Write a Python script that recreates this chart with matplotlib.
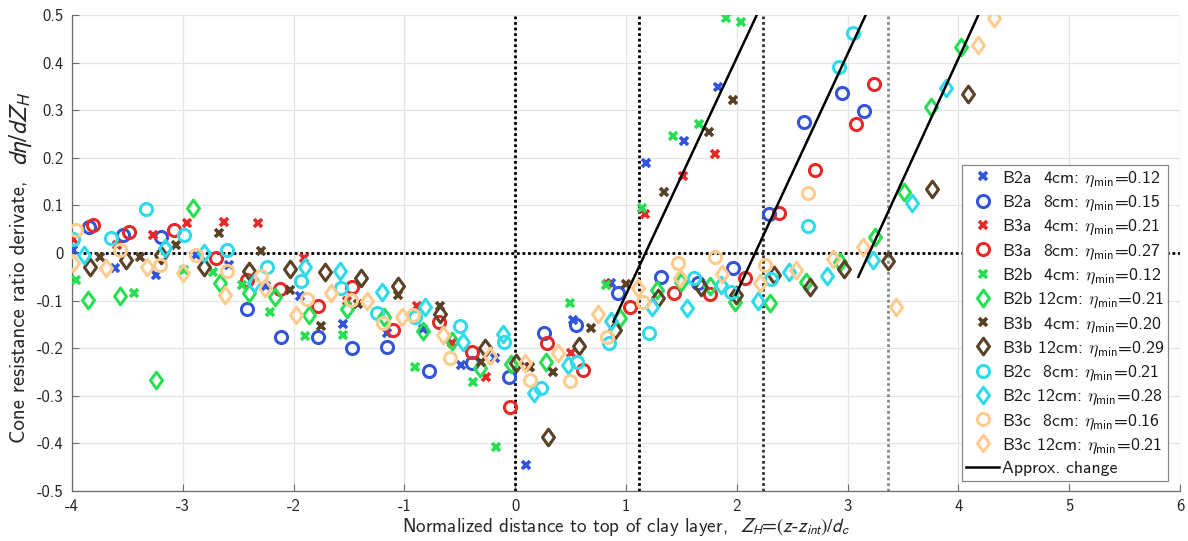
import matplotlib
matplotlib.use('Agg')
import matplotlib.pyplot as plt
from matplotlib.path import Path

plt.rcParams['font.family'] = ['cmss10', 'DejaVu Sans']
plt.rcParams['axes.unicode_minus'] = False
plt.rcParams['mathtext.fontset'] = 'cm'

# ---------------- data ----------------
b2a4_x = [-3.99, -3.61, -3.24, -2.88, -2.58, -2.25, -1.94, -1.55, -1.16, -0.83, -0.49, -0.18, 0.10, 0.52, 0.86, 1.18, 1.52, 1.83]
b2a4_y = [0.006, -0.032, -0.046, -0.005, -0.025, -0.07, -0.09, -0.149, -0.169, -0.16, -0.235, -0.221, -0.445, -0.141, -0.063, 0.190, 0.235, 0.348]

b2a8_x = [-3.85, -3.54, -3.20, -2.42, -2.11, -1.78, -1.47, -1.16, -0.78, -0.39, -0.06, 0.26, 0.55, 0.93, 1.32, 1.65, 1.97, 2.29, 2.61, 2.95, 3.15]
b2a8_y = [0.055, 0.038, 0.034, -0.118, -0.176, -0.177, -0.200, -0.198, -0.247, -0.232, -0.260, -0.169, -0.151, -0.083, -0.050, -0.064, -0.031, 0.081, 0.276, 0.337, 0.299]

b3a4_x = [-3.99, -3.59, -3.27, -2.96, -2.63, -2.32, -1.91, -1.52, -0.89, -0.57, -0.26, 0.12, 0.50, 0.83, 1.17, 1.51, 1.80]
b3a4_y = [0.030, 0.017, 0.038, 0.063, 0.065, 0.062, -0.011, -0.100, -0.111, -0.190, -0.261, -0.240, -0.210, -0.065, 0.082, 0.162, 0.209]

b3a8_x = [-3.81, -3.49, -3.08, -2.70, -2.42, -2.12, -1.78, -1.47, -1.10, -0.69, -0.39, -0.05, 0.29, 0.61, 1.04, 1.43, 1.76, 2.07, 2.38, 2.71, 3.08, 3.24]
b3a8_y = [0.059, 0.044, 0.048, -0.010, -0.057, -0.076, -0.111, -0.072, -0.161, -0.144, -0.209, -0.323, -0.190, -0.246, -0.114, -0.084, -0.086, -0.053, 0.083, 0.174, 0.272, 0.355]

b2b4_x = [-3.96, -3.44, -2.99, -2.73, -2.47, -2.21, -1.90, -1.55, -0.90, -0.38, -0.17, 0.49, 0.82, 1.14, 1.42, 1.66, 1.90, 2.04]
b2b4_y = [-0.057, -0.083, -0.035, -0.040, -0.067, -0.123, -0.174, -0.172, -0.240, -0.270, -0.407, -0.104, -0.067, 0.094, 0.246, 0.272, 0.493, 0.486]

b2b12_x = [-3.86, -3.57, -3.24, -2.91, -2.66, -2.40, -2.17, -1.86, -1.52, -1.18, -0.83, -0.57, -0.32, -0.04, 0.28, 0.95, 1.28, 1.50, 1.76, 1.98, 2.30, 2.62, 2.93, 3.25, 3.51, 3.75, 4.02]
b2b12_y = [-0.099, -0.090, -0.267, 0.094, -0.064, -0.084, -0.092, -0.130, -0.118, -0.135, -0.163, -0.184, -0.242, -0.233, -0.228, -0.137, -0.077, -0.060, -0.069, -0.102, -0.106, -0.060, -0.018, 0.034, 0.129, 0.306, 0.433]

b3b4_x = [-3.75, -3.39, -3.06, -2.67, -2.29, -2.03, -1.75, -1.42, -1.06, -0.68, -0.31, 0.13, 0.34, 0.68, 1.00, 1.34, 1.75, 1.97]
b3b4_y = [-0.008, -0.008, 0.017, 0.041, 0.005, -0.078, -0.153, -0.107, -0.088, -0.111, -0.230, -0.240, -0.251, -0.158, -0.065, 0.129, 0.255, 0.321]

b3b12_x = [-3.84, -3.51, -3.20, -2.81, -2.40, -2.03, -1.72, -1.39, -1.06, -0.68, -0.27, 0.01, 0.30, 0.58, 0.90, 1.29, 1.68, 1.99, 2.34, 2.66, 2.97, 3.36, 3.76, 4.09]
b3b12_y = [-0.030, -0.015, -0.005, -0.030, -0.037, -0.034, -0.039, -0.053, -0.069, -0.128, -0.200, -0.232, -0.386, -0.195, -0.162, -0.095, -0.071, -0.088, -0.046, -0.072, -0.034, -0.017, 0.134, 0.334]

b2c8_x = [-3.99, -3.65, -3.33, -2.99, -2.60, -2.24, -1.93, -1.57, -1.25, -0.90, -0.50, -0.10, 0.23, 0.56, 0.85, 1.21, 1.61, 1.95, 2.31, 2.64, 2.92, 3.05]
b2c8_y = [0.030, 0.031, 0.092, 0.038, 0.006, -0.030, -0.058, -0.074, -0.127, -0.135, -0.153, -0.188, -0.283, -0.228, -0.190, -0.168, -0.053, -0.081, -0.055, 0.057, 0.391, 0.462]

b2c12_x = [-3.89, -3.16, -2.81, -2.36, -1.90, -1.58, -1.20, -0.81, -0.47, -0.11, 0.17, 0.48, 0.86, 1.23, 1.55, 1.86, 2.19, 2.47, 2.81, 3.23, 3.58, 3.89]
b2c12_y = [-0.004, 0.010, 0.000, -0.062, -0.030, -0.037, -0.081, -0.114, -0.188, -0.170, -0.295, -0.235, -0.142, -0.114, -0.116, -0.067, -0.100, -0.039, -0.048, -0.015, 0.106, 0.346]

b3c8_x = [-3.96, -3.57, -3.21, -2.88, -2.60, -2.29, -1.88, -1.48, -1.19, -0.92, -0.59, 0.13, 0.49, 0.83, 1.15, 1.47, 1.80, 2.25, 2.64]
b3c8_y = [0.048, 0.006, -0.025, -0.004, -0.038, -0.048, -0.097, -0.099, -0.148, -0.130, -0.221, -0.267, -0.268, -0.176, -0.102, -0.020, -0.008, -0.025, 0.125]

b3c12_x = [-3.99, -3.69, -3.32, -3.00, -2.62, -2.26, -1.98, -1.66, -1.34, -1.02, -0.65, -0.23, 0.09, 0.39, 0.75, 1.11, 1.49, 1.87, 2.21, 2.53, 2.87, 3.14, 3.44, 4.18, 4.32]
b3c12_y = [-0.020, -0.032, -0.030, -0.042, -0.088, -0.074, -0.130, -0.085, -0.100, -0.135, -0.172, -0.216, -0.232, -0.210, -0.129, -0.074, -0.053, -0.044, -0.062, -0.036, -0.013, 0.013, -0.114, 0.437, 0.493]

series_labels = [
    r'B2a  4cm: $\eta_{\mathsf{min}}$=0.12',
    r'B2a  8cm: $\eta_{\mathsf{min}}$=0.15',
    r'B3a  4cm: $\eta_{\mathsf{min}}$=0.21',
    r'B3a  8cm: $\eta_{\mathsf{min}}$=0.27',
    r'B2b  4cm: $\eta_{\mathsf{min}}$=0.12',
    r'B2b 12cm: $\eta_{\mathsf{min}}$=0.21',
    r'B3b  4cm: $\eta_{\mathsf{min}}$=0.20',
    r'B3b 12cm: $\eta_{\mathsf{min}}$=0.29',
    r'B2c  8cm: $\eta_{\mathsf{min}}$=0.21',
    r'B2c 12cm: $\eta_{\mathsf{min}}$=0.28',
    r'B3c  8cm: $\eta_{\mathsf{min}}$=0.16',
    r'B3c 12cm: $\eta_{\mathsf{min}}$=0.21',
]
line_label = 'Approx. change'

# approximate change lines (start/end points)
change_x0 = [0.886, 1.99, 3.097]
change_y0 = [-0.144, -0.088, -0.050]
change_x1 = [2.18, 3.163, 4.18]
change_y1 = [0.5, 0.5, 0.5]

# vertical reference lines
vline_x = [0.0, 1.12, 2.24, 3.36]
vline_colors = ['black', 'black', '#333333', '#888888']

xticks = [-4, -3, -2, -1, 0, 1, 2, 3, 4, 5, 6]
xticklabels = ['-4', '-3', '-2', '-1', '0', '1', '2', '3', '4', '5', '6']
yticks = [-0.5, -0.4, -0.3, -0.2, -0.1, 0.0, 0.1, 0.2, 0.3, 0.4, 0.5]
yticklabels = ['-0.5', '-0.4', '-0.3', '-0.2', '-0.1', '0', '0.1', '0.2', '0.3', '0.4', '0.5']

# ---------------- styling ----------------
blue = '#3355dd'
red = '#e62a2a'
green = '#27e052'
brown = '#5b4226'
cyan = '#2fdbea'
orange = '#ffcb8e'

# MATLAB-like diamond (a bit wider than matplotlib's thin diamond)
diamond = Path([(0, 1), (0.72, 0), (0, -1), (-0.72, 0), (0, 1)],
               [Path.MOVETO, Path.LINETO, Path.LINETO, Path.LINETO, Path.CLOSEPOLY])

series = [
    (b2a4_x, b2a4_y, blue, 'x'),
    (b2a8_x, b2a8_y, blue, 'o'),
    (b3a4_x, b3a4_y, red, 'x'),
    (b3a8_x, b3a8_y, red, 'o'),
    (b2b4_x, b2b4_y, green, 'x'),
    (b2b12_x, b2b12_y, green, 'd'),
    (b3b4_x, b3b4_y, brown, 'x'),
    (b3b12_x, b3b12_y, brown, 'd'),
    (b2c8_x, b2c8_y, cyan, 'o'),
    (b2c12_x, b2c12_y, cyan, 'd'),
    (b3c8_x, b3c8_y, orange, 'o'),
    (b3c12_x, b3c12_y, orange, 'd'),
]

W, H = 1188, 541
fig = plt.figure(figsize=(W / 100, H / 100), dpi=100)
ax = fig.add_axes([0.0606, 0.0924, 0.9327, 0.8799])

ax.set_xlim(-4, 6)
ax.set_ylim(-0.5, 0.5)
ax.set_xticks(xticks)
ax.set_xticklabels(xticklabels)
ax.set_yticks(yticks)
ax.set_yticklabels(yticklabels)
ax.grid(True, color='#e4e4e4', linewidth=0.9)
ax.set_axisbelow(True)
for s in ['top', 'right']:
    ax.spines[s].set_visible(False)
for s in ['left', 'bottom']:
    ax.spines[s].set_color('#6a6a6a')
    ax.spines[s].set_linewidth(0.9)
ax.tick_params(direction='in', length=5, width=0.8, color='#6a6a6a',
               labelsize=12, labelcolor='#262626', pad=6)

# reference lines
ax.axhline(0, color='black', linestyle=(0, (1, 1)), linewidth=2.0, zorder=1)
for vx, vc in zip(vline_x, vline_colors):
    ax.axvline(vx, color=vc, linestyle=(0, (1, 1)), linewidth=2.0, zorder=1)

handles = []
for (xs, ys, col, mk), lab in zip(series, series_labels):
    if mk == 'x':
        h, = ax.plot(xs, ys, linestyle='none', marker='x', color=col,
                     markersize=6.0, markeredgewidth=2.6, label=lab, zorder=3)
    elif mk == 'o':
        h, = ax.plot(xs, ys, linestyle='none', marker='o', markerfacecolor='none',
                     markeredgecolor=col, markersize=8.7, markeredgewidth=2.2,
                     label=lab, zorder=3)
    else:
        h, = ax.plot(xs, ys, linestyle='none', marker=diamond, markerfacecolor='none',
                     markeredgecolor=col, markersize=12.0, markeredgewidth=2.2,
                     label=lab, zorder=3)
    handles.append(h)

line_h = None
for x0, y0, x1, y1 in zip(change_x0, change_y0, change_x1, change_y1):
    lh, = ax.plot([x0, x1], [y0, y1], color='black', linewidth=1.8, zorder=4)
    if line_h is None:
        line_h = lh
handles.append(line_h)
labels = series_labels + [line_label]

leg = ax.legend(handles, labels, loc='lower right', bbox_to_anchor=(0.9895, 0.022),
                fontsize=12.8, frameon=True, fancybox=False, framealpha=1,
                edgecolor='#888888', labelspacing=0.27, handlelength=1.85,
                handletextpad=0.15, borderpad=0.25, borderaxespad=0)
leg.get_frame().set_linewidth(0.9)
for t in leg.get_texts():
    t.set_math_fontfamily('cm')
    t.set_color('#1a1a1a')

ax.set_xlabel(r'Normalized distance to top of clay layer,  $Z_H$=$(z$-$z_{int})/d_c$',
              fontsize=13.8, color='#262626', math_fontfamily='stixsans', labelpad=1)

# y label: plain part and a larger math part (as in the reference)
yl_text = fig.text(19 / W, 1 - 443 / H, 'Cone resistance ratio derivate,',
                   rotation=90, ha='center', va='bottom', fontsize=15, color='#262626')
fig.canvas.draw()
bb = yl_text.get_window_extent()
fig.text(21 / W, (bb.y1 + 14) / H, r'$d\eta/dZ_H$', rotation=90, ha='center', va='bottom',
         fontsize=18, color='#262626', math_fontfamily='stixsans')

fig.savefig('out.png', dpi=100)
